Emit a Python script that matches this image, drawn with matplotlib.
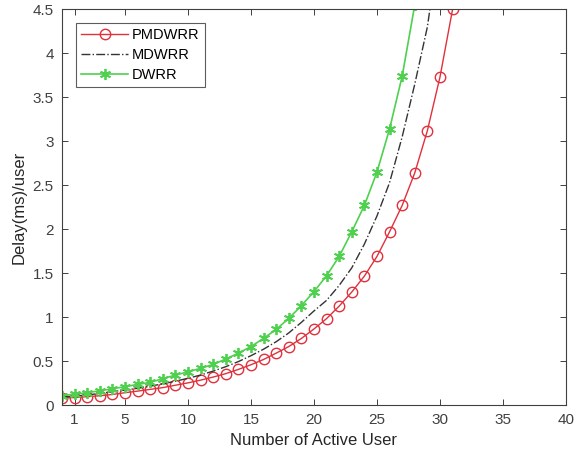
import matplotlib
matplotlib.use("Agg")
import matplotlib.pyplot as plt
import numpy as np

plt.rcParams.update({
    "font.family": ["Liberation Sans", "DejaVu Sans"],
    "font.size": 10,
})

# ---- data ----
users = np.arange(0, 32)
pmdwrr = [0.080, 0.085, 0.095, 0.105, 0.120, 0.140, 0.158, 0.178, 0.198, 0.225,
          0.252, 0.283, 0.318, 0.357, 0.405, 0.458, 0.518, 0.590, 0.665, 0.757,
          0.865, 0.983, 1.125, 1.285, 1.466, 1.690, 1.970, 2.270, 2.640, 3.120,
          3.730, 4.500]
mdwrr = [0.091, 0.101, 0.114, 0.132, 0.151, 0.170, 0.190, 0.214, 0.241, 0.271,
         0.304, 0.341, 0.386, 0.436, 0.494, 0.561, 0.635, 0.720, 0.820, 0.940,
         1.070, 1.190, 1.360, 1.560, 1.830, 2.150, 2.530, 3.050, 3.650, 4.300,
         5.300, 6.400]
dwrr = [0.105, 0.125, 0.140, 0.162, 0.185, 0.208, 0.235, 0.258, 0.300, 0.340,
        0.378, 0.417, 0.462, 0.523, 0.590, 0.665, 0.758, 0.860, 0.985, 1.130,
        1.290, 1.470, 1.690, 1.970, 2.270, 2.650, 3.140, 3.740, 4.550]
xticks = [1, 5, 10, 15, 20, 25, 30, 35, 40]
yticks = [0, 0.5, 1, 1.5, 2, 2.5, 3, 3.5, 4, 4.5]

fig = plt.figure(figsize=(5.75, 4.59), dpi=100)
ax = fig.add_axes([0.1078, 0.1176, 0.8765, 0.8621])

ax.plot(users, pmdwrr, "-o", color="#e0313c", lw=1.0, ms=7.5, mfc="none",
        mew=1.0, label="PMDWRR")
ax.plot(users, mdwrr, "-.", color="#333333", lw=1.0, label="MDWRR")
# MATLAB-style asterisk marker
ax.plot(users[:len(dwrr)], dwrr, "-", marker=(6, 2, 0), color="#4fd04f",
        lw=1.2, ms=8, mew=1.3, label="DWRR")

ax.set_xlim(0, 40)
ax.set_ylim(0, 4.5)
ax.set_xticks(xticks)
ax.set_yticks(yticks)
ax.set_yticklabels(["0", "0.5", "1", "1.5", "2", "2.5", "3", "3.5", "4", "4.5"])
ax.tick_params(direction="in", top=True, right=True, length=4, width=0.7,
               labelsize=11, labelcolor="#404040", color="#404040", pad=6)
for s in ax.spines.values():
    s.set_color("#404040")
    s.set_linewidth(0.8)

ax.set_xlabel("Number of Active User", fontsize=12, color="#262626", labelpad=4)
ax.set_ylabel("Delay(ms)/user", fontsize=12, color="#262626", labelpad=4)

leg = ax.legend(loc="upper left", bbox_to_anchor=(0.028, 0.965), fontsize=10.5,
                fancybox=False, edgecolor="#333333", handlelength=3.2,
                borderpad=0.35, labelspacing=0.4, handletextpad=0.3,
                borderaxespad=0)
leg.get_frame().set_linewidth(0.8)

fig.savefig("out.png", dpi=100, facecolor="white")
